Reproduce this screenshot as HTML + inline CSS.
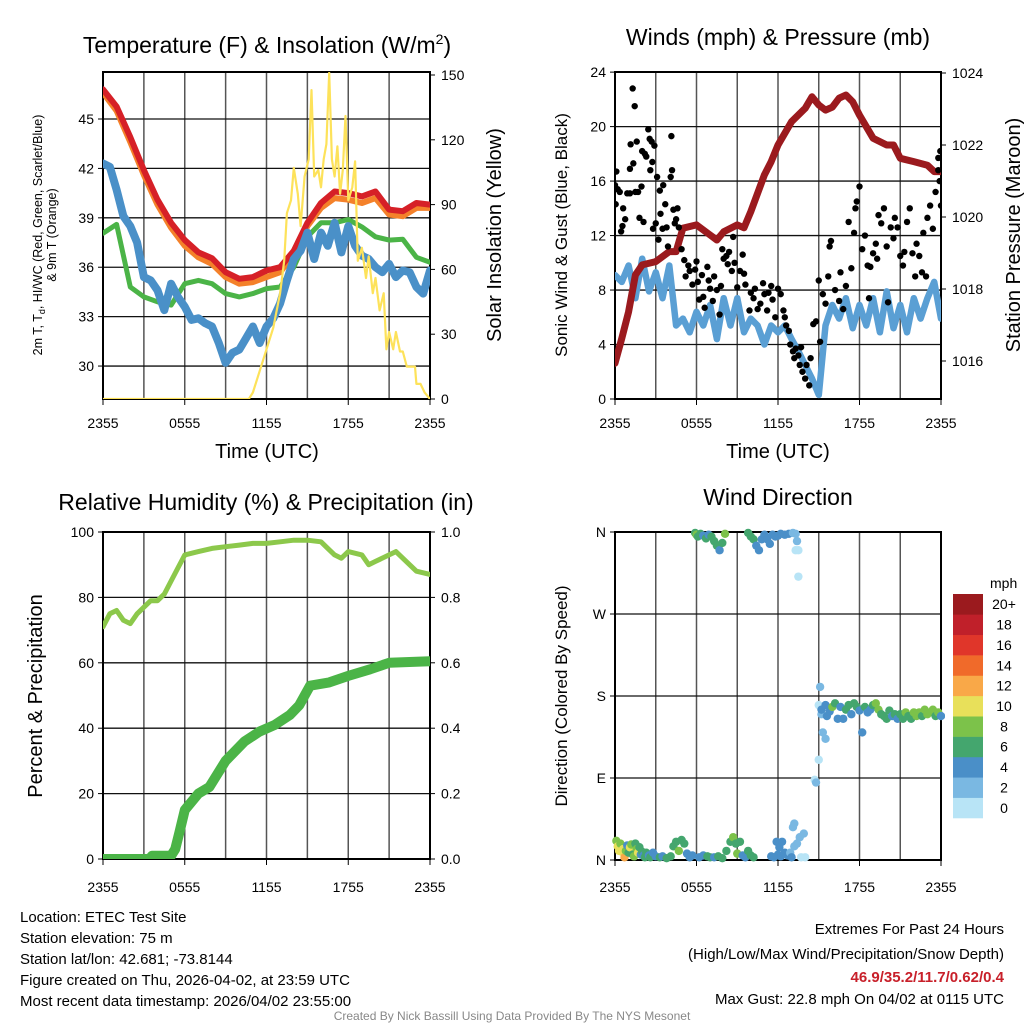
<!DOCTYPE html>
<html><head><meta charset="utf-8"><style>
html,body{margin:0;padding:0;background:#fff;}
svg{display:block;font-family:"Liberation Sans",Arial,sans-serif;}
</style></head><body>
<svg id="fig" width="1024" height="1024" viewBox="0 0 1024 1024" xmlns="http://www.w3.org/2000/svg">
<defs>
<clipPath id="c1"><rect x="103" y="72" width="327" height="327"/></clipPath>
<clipPath id="c2"><rect x="615" y="72" width="326" height="327"/></clipPath>
<clipPath id="c3"><rect x="103" y="532" width="327" height="327"/></clipPath>
<clipPath id="c4"><rect x="611" y="528" width="334" height="336"/></clipPath>
</defs>
<text x="267" y="53" font-size="23" text-anchor="middle">Temperature (F) &amp; Insolation (W/m<tspan font-size="14" dy="-9">2</tspan><tspan dy="9">)</tspan></text>
<text x="778" y="45" font-size="23" text-anchor="middle">Winds (mph) &amp; Pressure (mb)</text>
<text x="266" y="510" font-size="23" text-anchor="middle">Relative Humidity (%) &amp; Precipitation (in)</text>
<text x="778" y="505" font-size="23" text-anchor="middle">Wind Direction</text>

<text transform="translate(42,235) rotate(-90)" font-size="12.5" text-anchor="middle">2m T, T<tspan font-size="9" dy="3">d</tspan><tspan dy="-3">, HI/WC (Red, Green, Scarlet/Blue)</tspan></text>
<text transform="translate(56,235) rotate(-90)" font-size="12.5" text-anchor="middle">&amp; 9m T (Orange)</text>
<text transform="translate(501,235) rotate(-90)" font-size="20" text-anchor="middle">Solar Insolation (Yellow)</text>
<text transform="translate(567,235) rotate(-90)" font-size="17" text-anchor="middle">Sonic Wind &amp; Gust (Blue, Black)</text>
<text transform="translate(1020,235) rotate(-90)" font-size="20" text-anchor="middle">Station Pressure (Maroon)</text>
<text transform="translate(42,696) rotate(-90)" font-size="20" text-anchor="middle">Percent &amp; Precipitation</text>
<text transform="translate(567,696) rotate(-90)" font-size="17" text-anchor="middle">Direction (Colored By Speed)</text>
<text x="267" y="458" font-size="20" text-anchor="middle">Time (UTC)</text>
<text x="778" y="458" font-size="20" text-anchor="middle">Time (UTC)</text>

<g font-size="15">
<text x="20" y="922">Location: ETEC Test Site</text>
<text x="20" y="943">Station elevation: 75 m</text>
<text x="20" y="964">Station lat/lon: 42.681; -73.8144</text>
<text x="20" y="985">Figure created on Thu, 2026-04-02, at 23:59 UTC</text>
<text x="20" y="1006">Most recent data timestamp: 2026/04/02 23:55:00</text>
</g>
<g font-size="15" text-anchor="end">
<text x="1004" y="934">Extremes For Past 24 Hours</text>
<text x="1004" y="959">(High/Low/Max Wind/Precipitation/Snow Depth)</text>
<text x="1004" y="982" fill="#c8202a" font-weight="bold">46.9/35.2/11.7/0.62/0.4</text>
<text x="1004" y="1004">Max Gust: 22.8 mph On 04/02 at 0115 UTC</text>
</g>
<text x="512" y="1020" font-size="12" fill="#888" text-anchor="middle">Created By Nick Bassill Using Data Provided By The NYS Mesonet</text>
<g id="layer"></g>
</svg>
<script>
// ---------- data ----------
const timeLabels = ["2355","0555","1155","1755","2355"];
const hourly = [0,1,2,3,4,5,6,7,8,9,10,11,12,13,14,15,16,17,18,19,20,21,22,23,24];
const tempRed = [46.8,45.75,43.9,41.9,40.1,38.7,37.65,36.9,36.55,35.7,35.3,35.4,35.8,36.0,37.0,38.7,39.9,40.6,40.5,40.3,40.6,39.5,39.4,39.9,39.8];
const tempOrange = [46.6,45.5,43.6,41.6,39.8,38.4,37.3,36.6,36.2,35.4,35.0,35.1,35.4,35.7,36.8,38.5,39.6,40.2,40.1,39.9,40.2,39.2,39.1,39.6,39.6];
const tempGreen = [38.06,38.6,34.8,34.2,33.9,33.7,35.0,35.2,35.0,34.4,34.2,34.4,34.7,34.8,36.0,37.85,38.7,38.7,38.9,38.45,37.85,37.65,37.7,36.6,36.3];
const halfHours = [0,0.5,1,1.5,2,2.5,3,3.5,4,4.5,5,5.5,6,6.5,7,7.5,8,8.5,9,9.5,10,10.5,11,11.5,12,12.5,13,13.5,14,14.5,15,15.5,16,16.5,17,17.5,18,18.5,19,19.5,20,20.5,21,21.5,22,22.5,23,23.5,24];
const tempBlue = [42.3,42.1,40.7,39.1,38.5,37.5,35.4,35.2,34.6,33.4,35.0,34.2,33.6,32.8,32.9,32.6,32.4,31.4,30.2,30.8,31.0,31.7,32.4,31.4,32.4,32.9,33.8,35.2,36.5,37.0,38.1,36.5,38.1,37.3,38.7,36.9,38.5,37.3,36.7,36.5,36.0,35.7,36.2,35.4,35.8,35.7,34.8,34.4,35.8];
const solarHours = [0,10.7,11,11.5,12,12.5,13,13.3,13.5,13.8,14,14.3,14.5,14.8,15.1,15.3,15.5,15.8,16,16.2,16.4,16.6,16.8,17,17.2,17.4,17.6,17.8,18,18.3,18.5,18.7,19,19.3,19.5,19.8,20,20.3,20.6,20.8,21,21.3,21.5,21.8,22,22.3,22.6,22.9,23,23.3,23.6,24];
const solarValues = [0,0,3,13,23,33,49,64,86,92,107,95,80,103,111,143,103,106,98,111,118,151,111,103,117,95,106,131,92,98,110,64,70,56,66,49,56,41,49,23,31,23,31,22,22,15,15,15,7,7,3,0];
const tempTicks = [30,33,36,39,42,45];
const solarTicks = [0,30,60,90,120,150];

const pressure = [1015.94,1016.63,1017.37,1018.39,1018.67,1018.76,1019.04,1019.04,1019.69,1019.78,1019.5,1019.36,1019.59,1019.78,1019.7,1020.15,1021.17,1021.54,1022.0,1022.65,1023.02,1023.34,1023.11,1022.97,1023.05,1023.3,1023.39,1023.2,1022.83,1022.19,1022.0,1022.0,1021.63,1021.54,1021.44,1021.26,1021.26];
const pressureHours = [0,0.5,1,1.5,2,3,4,4.5,5,6,7,7.5,8,9,9.5,10,11,11.5,12,13,14,14.5,15,15.5,16,16.5,17,17.5,18,19,20,20.5,21,22,23,23.5,24];
const sonicWind = [9.1,8.6,9.8,7.4,10.3,7.9,9.3,7.4,9.8,5.4,5.9,4.9,6.4,5.4,6.9,4.4,7.4,5.4,7.4,4.9,5.9,5.4,4.0,5.4,4.9,5.4,4.4,3.5,2.5,1.5,0.3,5.4,6.9,5.9,7.4,5.2,6.9,5.4,7.4,4.9,7.9,5.2,6.9,4.9,7.4,5.9,7.4,8.6,5.9];
const gustHours = [0,0.05,0.1,0.2,0.35,0.45,0.55,0.6,0.75,0.9,1.1,1.15,1.1,1.3,1.35,1.45,1.5,1.6,1.7,1.8,1.95,2,2.1,2.2,2.3,2.45,2.55,2.6,2.7,2.75,2.8,2.9,3,3.1,3.2,3.3,3.35,3.55,3.5,3.7,3.8,3.9,4.1,4.15,4.2,4.3,4.4,4.5,4.6,4.7,4.9,5.1,5.2,5.4,5.5,5.7,5.9,6,6.1,6.2,6.4,6.5,6.6,6.8,6.9,7,7.2,7.3,7.5,7.7,7.8,7.9,8,8.2,8.3,8.4,8.6,8.7,8.8,9,9.2,9.4,9.5,9.6,9.9,10,10.2,10.3,10.5,10.7,10.9,11,11.2,11.3,11.5,11.6,11.8,12,12.2,12.4,12.5,12.6,12.8,12.9,13.1,13.2,13.3,13.5,13.6,13.7,13.8,14,14.1,14.3,14.4,14.6,14.8,15,15.1,15.3,15.5,15.7,15.8,15.9,16.2,16.5,16.6,16.8,17,17.2,17.4,17.6,17.7,17.8,18,18.2,18.4,18.6,18.7,18.8,19,19.2,19.3,19.4,19.6,19.8,20,20.1,20.3,20.5,20.6,20.8,21,21.2,21.3,21.5,21.7,21.9,22.1,22.2,22.4,22.6,22.7,22.9,23,23.2,23.4,23.6,23.8,23.9,24,23.8,23.95];
const gustSpeeds = [15.7,14.3,16.7,15.4,15.2,12.3,12.7,14,13.2,15.1,15.1,18.7,16.9,22.8,17.3,21.5,15.2,18.9,15.2,13.3,15.6,18.2,13,18,17.8,19.8,19.1,16.8,18.9,17.4,12.5,18.6,12.9,16.3,11.7,15.3,13.6,15.7,12.5,14.3,12.6,11.2,16.3,19.3,16.8,13.9,12.9,13.2,14,12.6,11,10.2,9,9.8,9.4,8.4,9.5,10.1,8.6,7.3,9.1,7.5,6.7,9.7,8.7,8.1,7.2,9,8,6.2,8.3,11,10.3,10.5,9.9,10.8,9.4,11.9,10,8.2,9.4,10.6,9.2,8.4,6.5,7.8,7.4,8.1,6.6,7,8.5,7.7,6.5,7.8,8.3,7.3,6,8.1,7.7,6.5,6,5.4,5,4,3.5,3,3.7,3.2,2.5,3.8,2,1.5,2.5,1,3,5.5,5.7,8.7,4.2,7.7,7,9,11.2,11.6,8,7.2,9.3,6.6,8.3,13,9.6,12.2,14,14.5,15.6,11,12,9.8,7.4,9.7,10.7,11.4,10.3,13.5,12.9,14,11.2,7.1,12.6,11.8,13.3,12.6,10.5,9.8,10.8,13,14,10.7,9,11.4,10.5,9.3,12.2,9,13.3,14.2,12.5,15.2,16.8,16,14.2,17.7,18.2];
const windTicks = [0,4,8,12,16,20,24];
const pressureTicks = [1016,1018,1020,1022,1024];

const rhHours = [0,0.5,1,1.5,2,2.5,3,3.5,4,4.5,5,5.5,6,7,8,9,10,11,12,13,14,15,16,16.5,17,17.5,18,19,19.5,20,21,21.5,22,22.5,23,24];
const rhValues = [71,75,76,73,72,75,77,79,79,81,85,89,93,94,95,95.5,96,96.5,96.5,97,97.5,97.5,97,95,93,92,94,93,90,91,93,94,92,90,88,87];
const precipHours = [0,3.4,3.6,5.0,5.3,5.6,6,7,7.8,9,10.4,11.5,12.6,13.7,14.4,15.2,16.6,18,19.6,21,24];
const precipValues = [0,0,0.01,0.01,0.03,0.08,0.15,0.2,0.22,0.3,0.36,0.39,0.41,0.44,0.47,0.53,0.54,0.56,0.58,0.6,0.605];
const pctTicks = [0,20,40,60,80,100];
const precipTicks = ["0.0","0.2","0.4","0.6","0.8","1.0"];

const dirHours = [0.1,0.2,0.3,0.4,0.5,0.6,0.7,0.8,0.9,1.0,1.1,1.2,1.3,1.4,1.5,1.6,1.7,1.8,1.9,2.0,2.1,2.2,2.3,2.5,2.6,2.8,3.0,3.3,3.5,3.8,4.1,4.3,4.5,4.7,4.9,5.1,5.3,5.5,5.7,5.9,6.0,6.1,6.3,6.5,6.7,6.9,7.1,7.3,7.5,7.7,7.9,8.1,9.8,10.0,10.2,10.4,10.6,10.8,11.0,11.2,11.4,11.6,11.8,12.0,12.2,12.5,12.8,13.1,13.3,13.4,13.3,13.5,13.5,8.5,8.7,8.9,9.0,9.2,9.4,9.6,11.9,12.1,12.3,12.0,12.2,12.5,12.7,12.9,13.0,13.2,13.4,13.6,13.1,13.2,13.9,14.0,13.7,14.7,14.8,15.0,15.1,15.0,15.2,15.3,15.5,15.2,15.5,15.6,15.8,16.0,16.2,16.4,16.6,16.8,17.0,17.2,17.4,17.6,17.8,18.0,18.2,18.4,18.6,18.8,19.0,19.2,19.4,19.6,19.8,20.0,20.2,20.4,20.6,20.8,21.0,21.2,21.4,21.6,21.8,22.0,22.2,22.4,22.6,22.8,23.0,23.2,23.4,23.6,23.8,24.0,6.2,6.5,6.8,7.0,7.3,7.6,7.9,8.2,9.8,10.0,10.2,11.5,11.7];
const dirDegrees = [21,15,10,18,9,12,3,10,16,8,14,17,6,4,18,12,8,14,6,9,5,3,8,5,3,8,4,3,4,2,4,15,20,10,22,18,7,3,5,359,357,355,358,356,353,357,355,350,345,340,348,358,359,355,352,345,340,352,357,352,347,357,355,356,358,357,358,359,358,350,340,340,311,20,25,18,7,20,5,3,20,14,20,6,4,8,5,8,3,15,18,25,36,40,29,3,3,88,85,110,190,170,160,140,133,165,170,158,163,168,172,155,168,155,165,170,160,172,168,164,140,168,162,165,170,172,165,160,158,155,164,158,160,155,160,155,162,158,155,162,158,162,158,165,160,162,165,158,162,158,3,5,4,3,3,4,2,10,10,5,3,4,3];
const dirSpeeds = [8,10,10,8,10,10,12,8,4,6,10,8,6,8,6,8,10,6,4,6,4,6,6,4,6,4,4,6,4,6,6,6,6,8,6,6,4,4,4,6,8,6,6,4,6,4,6,6,6,4,6,8,6,6,6,4,4,4,4,4,4,4,4,4,4,4,4,2,2,2,0,0,0,6,8,6,8,6,4,4,4,4,4,4,4,4,4,2,4,2,2,2,2,2,2,0,0,0,2,0,2,0,2,2,2,4,4,4,4,8,6,4,4,4,6,6,4,6,6,4,4,6,4,4,6,8,8,6,6,6,6,4,6,4,6,6,8,6,6,8,8,8,6,8,8,8,8,6,8,4,4,4,6,6,4,6,6,6,6,6,6,4,4];
const dirTicks = ["N","E","S","W","N"];
const speedLevels = ["0","2","4","6","8","10","12","14","16","18","20+"];
const speedColors = ["#b8e4f6","#7ab8e2","#4a8fc8","#44a66e","#7cc24a","#e8e05a","#f9a848","#f06a2a","#e0362a","#c0202a","#9b1a1e"];

// ---------- helpers ----------
const NS = "http://www.w3.org/2000/svg";
const layer = document.getElementById("layer");
function mk(tag, attrs, parent) {
  const e = document.createElementNS(NS, tag);
  for (const k in attrs) e.setAttribute(k, attrs[k]);
  (parent || layer).appendChild(e);
  return e;
}
function linePath(xs, ys, sx, sy) {
  return xs.map((x, i) => (i ? "L" : "M") + sx(x).toFixed(1) + "," + sy(ys[i]).toFixed(1)).join("");
}
function makeX(x0, x1) { return h => x0 + (h / 24) * (x1 - x0); }

function frame(name, x0, x1, y0, y1, hLines, leftTicks, rightTicks, labelY) {
  const g = mk("g", {});
  
  
  const sx = makeX(x0, x1);
  for (let h = 3; h < 24; h += 3) {
    const l = mk("line", {x1: sx(h), x2: sx(h), y1: y0, y2: y1, stroke: "#555", "stroke-width": 1.5}, g);
    
    
  }
  hLines.forEach(y => {
    const l = mk("line", {x1: x0, x2: x1, y1: y, y2: y, stroke: "#111", "stroke-width": 1.3}, g);
    
    
  });
  const r = mk("rect", {x: x0, y: y0, width: x1 - x0, height: y1 - y0, fill: "none", stroke: "#000", "stroke-width": 2}, g);
  
  
  leftTicks.forEach(t => {
    const y = t.y;
    const tk = mk("line", {x1: x0 - 5, x2: x0, y1: y, y2: y, stroke: "#000", "stroke-width": 1}, g);
    
    
    const tx = mk("text", {x: x0 - 9, y: y + 5, "font-size": 14, "text-anchor": "end"}, g);
    tx.textContent = t.label;
    
    
  });
  rightTicks.forEach(t => {
    const y = t.y;
    const tk = mk("line", {x1: x1, x2: x1 + 5, y1: y, y2: y, stroke: "#000", "stroke-width": 1}, g);
    
    
    const tx = mk("text", {x: x1 + 11, y: y + 5, "font-size": 14}, g);
    tx.textContent = t.label;
    
    
  });
  timeLabels.forEach((lab, i) => {
    const x = sx(i * 6);
    const tk = mk("line", {x1: x, x2: x, y1: y1, y2: y1 + 6, stroke: "#000", "stroke-width": 1}, g);
    
    
    const tx = mk("text", {x: x, y: labelY, "font-size": 14, "text-anchor": "middle"}, g);
    tx.textContent = lab;
    
    
  });
  return sx;
}

// ---------- panel 1 ----------
{
  const x0 = 103, x1 = 430, y0 = 72, y1 = 399;
  const yT = v => 119 + (45 - v) * 16.47;
  const yI = v => 399 - v * 2.16;
  const sx = frame("temperature", x0, x1, y0, y1, tempTicks.map(yT),
    tempTicks.map(t => ({y: yT(t), label: String(t)})),
    solarTicks.map(t => ({y: yI(t), label: String(t)})), 428);
  const g = mk("g", {"clip-path": "url(#c1)", fill: "none", "stroke-linejoin": "round", "stroke-linecap": "round"});
  
  
  let p = mk("path", {d: linePath(hourly, tempGreen, sx, yT), stroke: "#4bb447", "stroke-width": 5}, g);
  
  
  p = mk("path", {d: linePath(hourly, tempOrange, sx, yT), stroke: "#f4812a", "stroke-width": 6}, g);
  
  
  p = mk("path", {d: linePath(hourly, tempRed, sx, yT), stroke: "#d62027", "stroke-width": 6}, g);
  
  
  p = mk("path", {d: linePath(halfHours, tempBlue, sx, yT), stroke: "#4a90c8", "stroke-width": 8}, g);
  
  
  p = mk("path", {d: linePath(solarHours, solarValues, sx, yI), stroke: "#fde25a", "stroke-width": 2.2}, g);
  
  
}

// ---------- panel 2 ----------
{
  const x0 = 615, x1 = 941, y0 = 72, y1 = 399;
  const yW = v => 399 - v * 13.62;
  const yP = v => 361 - (v - 1016) * 36;
  const sx = frame("winds", x0, x1, y0, y1, windTicks.map(yW),
    windTicks.map(t => ({y: yW(t), label: String(t)})),
    pressureTicks.map(t => ({y: yP(t), label: String(t)})), 428);
  const g = mk("g", {"clip-path": "url(#c2)", fill: "none", "stroke-linejoin": "round", "stroke-linecap": "round"});
  
  
  let p = mk("path", {d: linePath(halfHours, sonicWind, sx, yW), stroke: "#5a9fd4", "stroke-width": 6.5}, g);
  
  
  p = mk("path", {d: linePath(pressureHours, pressure, sx, yP), stroke: "#9b1a1e", "stroke-width": 7}, g);
  
  
  gustHours.forEach((h, i) => {
    const c = mk("circle", {cx: sx(h), cy: yW(gustSpeeds[i]), r: 3.2, fill: "#000"}, g);
    
    
  });
}

// ---------- panel 3 ----------
{
  const x0 = 103, x1 = 430, y0 = 532, y1 = 859;
  const yR = v => 859 - v * 3.27;
  const yQ = v => 859 - v * 327;
  const sx = frame("humidity", x0, x1, y0, y1, pctTicks.map(yR),
    pctTicks.map(t => ({y: yR(t), label: String(t)})),
    precipTicks.map(t => ({y: yQ(parseFloat(t)), label: t})), 892);
  const g = mk("g", {"clip-path": "url(#c3)", fill: "none", "stroke-linejoin": "round", "stroke-linecap": "round"});
  
  
  let p = mk("path", {d: linePath(precipHours, precipValues, sx, yQ), stroke: "#4bb447", "stroke-width": 10}, g);
  
  
  p = mk("path", {d: linePath(rhHours, rhValues, sx, yR), stroke: "#8cc84b", "stroke-width": 5}, g);
  
  
}

// ---------- panel 4 ----------
{
  const x0 = 615, x1 = 941, y0 = 532, y1 = 860;
  const yD = v => 860 - v * 328 / 360;
  const dirVals = [0, 90, 180, 270, 360];
  const sx = frame("wind-direction", x0, x1, y0, y1, dirVals.map(yD),
    dirVals.map((t, i) => ({y: yD(t), label: dirTicks[i]})), [], 892);
  const g = mk("g", {"clip-path": "url(#c4)"});
  
  
  dirHours.forEach((h, i) => {
    const idx = Math.min(10, Math.floor(dirSpeeds[i] / 2));
    const c = mk("circle", {cx: sx(h), cy: yD(dirDegrees[i]), r: 4.2, fill: speedColors[idx]}, g);
    
    
  });
  const cb = mk("g", {});
  
  
  const t = mk("text", {x: 990, y: 588, "font-size": 14}, cb);
  t.textContent = "mph";
  
  
  const bh = 224 / speedLevels.length;
  speedLevels.forEach((lab, i) => {
    const y = 818 - (i + 1) * bh;
    const r = mk("rect", {x: 953, y: y, width: 30, height: bh + 0.3, fill: speedColors[i]}, cb);
    
    
    const tx = mk("text", {x: 1004, y: y + bh / 2 + 5, "font-size": 14, "text-anchor": "middle"}, cb);
    tx.textContent = lab;
    
    
  });
}
</script>
</body></html>
